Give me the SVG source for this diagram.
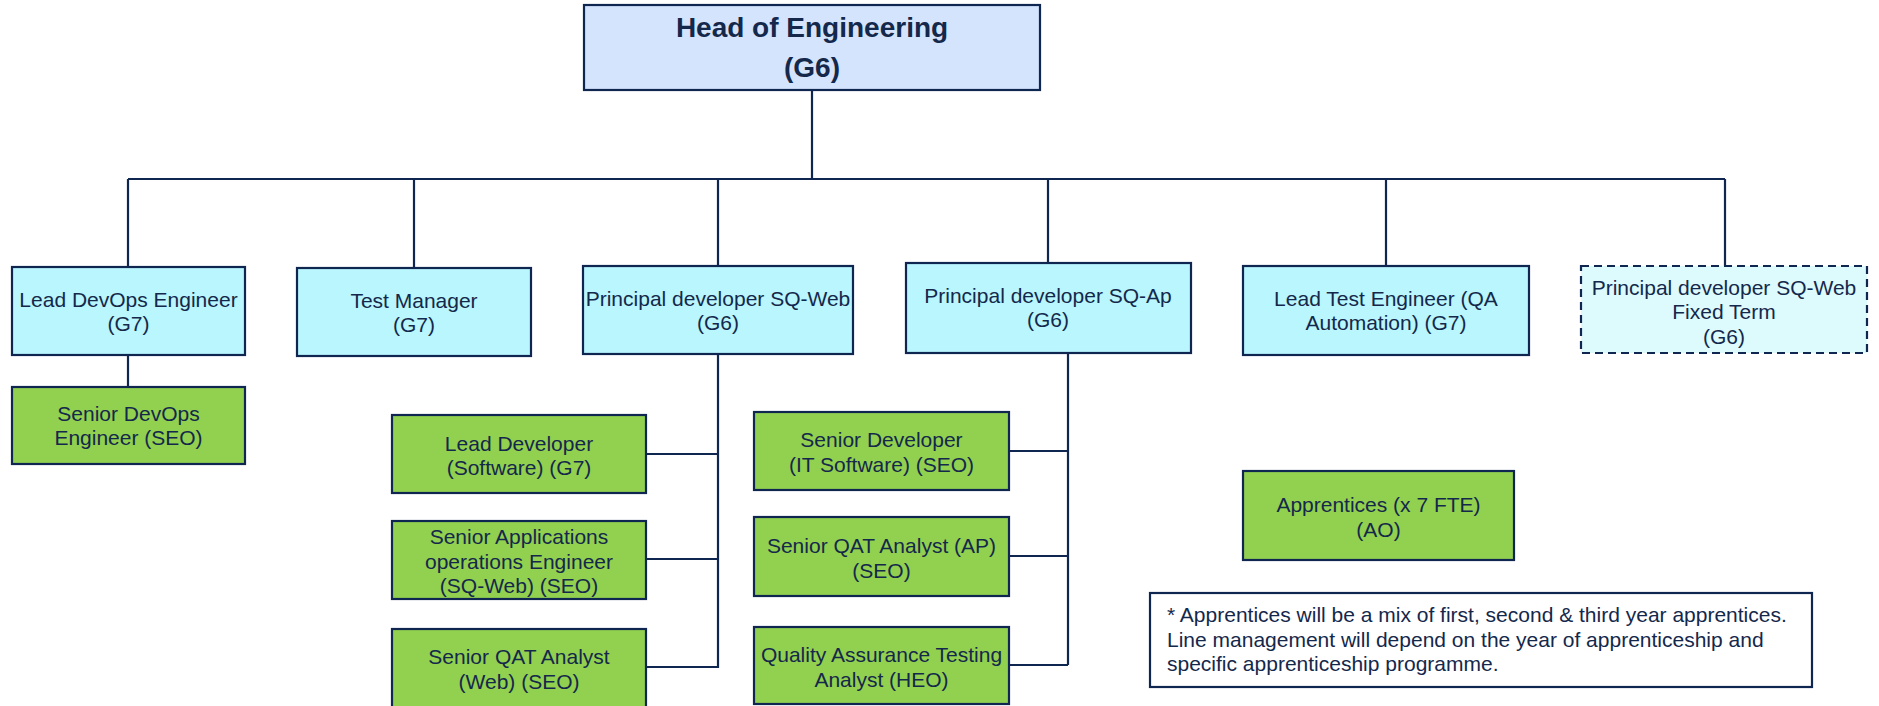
<svg xmlns="http://www.w3.org/2000/svg" width="1879" height="706" viewBox="0 0 1879 706">
<style>
.box{stroke:#0f2650;stroke-width:2.2}
.head{fill:#d4e4fc}
.cyan{fill:#b9f6fd}
.fixed{fill:#ddfafd;stroke-dasharray:8 5}
.green{fill:#92d050}
.note{fill:#ffffff}
.t{font-family:"Liberation Sans",Arial,sans-serif;font-size:21px;fill:#14284b;text-anchor:middle}
.tb{font-family:"Liberation Sans",Arial,sans-serif;font-size:28px;font-weight:bold;fill:#14284b;text-anchor:middle}
.tl{font-family:"Liberation Sans",Arial,sans-serif;font-size:21px;fill:#14284b}
.c{fill:none;stroke:#0f2650;stroke-width:2.2}
</style>
<rect width="1879" height="706" fill="#ffffff"/>
<g id="connectors">
<path class="c" d="M812 90V179M128 179H1725M128 179V267M414 179V268M718 179V266M1048 179V263M1386 179V266M1725 179V266"/>
<path class="c" d="M128 355V387"/>
<path class="c" d="M718 354V668M646 454H718M646 559H718M646 667H718"/>
<path class="c" d="M1068 353V665M1009 451H1068M1009 556H1068M1009 665H1068"/>
</g>
<g id="head">
<rect class="box head" x="584" y="5" width="456" height="85"/>
<text class="tb" x="812" y="37">Head of Engineering</text>
<text class="tb" x="812" y="77">(G6)</text>
</g>
<g id="lead-devops">
<rect class="box cyan" x="12" y="267" width="233" height="88"/>
<text class="t" x="128.5" y="306.5">Lead DevOps Engineer</text>
<text class="t" x="128.5" y="330.5">(G7)</text>
</g>
<g id="test-manager">
<rect class="box cyan" x="297" y="268" width="234" height="88"/>
<text class="t" x="414" y="307.5">Test Manager</text>
<text class="t" x="414" y="331.5">(G7)</text>
</g>
<g id="principal-sqweb">
<rect class="box cyan" x="583" y="266" width="270" height="88"/>
<text class="t" x="718" y="305.5">Principal developer SQ-Web</text>
<text class="t" x="718" y="329.5">(G6)</text>
</g>
<g id="principal-sqap">
<rect class="box cyan" x="906" y="263" width="285" height="90"/>
<text class="t" x="1048" y="302.5">Principal developer SQ-Ap</text>
<text class="t" x="1048" y="326.5">(G6)</text>
</g>
<g id="lead-test">
<rect class="box cyan" x="1243" y="266" width="286" height="89"/>
<text class="t" x="1386" y="306">Lead Test Engineer (QA</text>
<text class="t" x="1386" y="330">Automation) (G7)</text>
</g>
<g id="principal-fixed">
<rect class="box fixed" x="1581" y="266" width="286" height="87"/>
<text class="t" x="1724" y="294.5">Principal developer SQ-Web</text>
<text class="t" x="1724" y="319">Fixed Term</text>
<text class="t" x="1724" y="343.5">(G6)</text>
</g>
<g id="senior-devops">
<rect class="box green" x="12" y="387" width="233" height="77"/>
<text class="t" x="128.5" y="420.5">Senior DevOps</text>
<text class="t" x="128.5" y="445">Engineer (SEO)</text>
</g>
<g id="lead-developer">
<rect class="box green" x="392" y="415" width="254" height="78"/>
<text class="t" x="519" y="450.5">Lead Developer</text>
<text class="t" x="519" y="475">(Software) (G7)</text>
</g>
<g id="senior-apps">
<rect class="box green" x="392" y="521" width="254" height="78"/>
<text class="t" x="519" y="544">Senior Applications</text>
<text class="t" x="519" y="568.5">operations Engineer</text>
<text class="t" x="519" y="593">(SQ-Web) (SEO)</text>
</g>
<g id="senior-qat-web">
<rect class="box green" x="392" y="629" width="254" height="80"/>
<text class="t" x="519" y="664">Senior QAT Analyst</text>
<text class="t" x="519" y="688.5">(Web) (SEO)</text>
</g>
<g id="senior-developer">
<rect class="box green" x="754" y="412" width="255" height="78"/>
<text class="t" x="881.5" y="447">Senior Developer</text>
<text class="t" x="881.5" y="471.5">(IT Software) (SEO)</text>
</g>
<g id="senior-qat-ap">
<rect class="box green" x="754" y="517" width="255" height="79"/>
<text class="t" x="881.5" y="553">Senior QAT Analyst (AP)</text>
<text class="t" x="881.5" y="577.5">(SEO)</text>
</g>
<g id="qa-testing">
<rect class="box green" x="754" y="627" width="255" height="77"/>
<text class="t" x="881.5" y="662">Quality Assurance Testing</text>
<text class="t" x="881.5" y="686.5">Analyst (HEO)</text>
</g>
<g id="apprentices">
<rect class="box green" x="1243" y="471" width="271" height="89"/>
<text class="t" x="1378.5" y="511.5">Apprentices (x 7 FTE)</text>
<text class="t" x="1378.5" y="537">(AO)</text>
</g>
<g id="note">
<rect class="box note" x="1150" y="593" width="662" height="94"/>
<text class="tl" x="1167" y="622">* Apprentices will be a mix of first, second &amp; third year apprentices.</text>
<text class="tl" x="1167" y="646.5">Line management will depend on the year of apprenticeship and</text>
<text class="tl" x="1167" y="671">specific apprenticeship programme.</text>
</g>
</svg>
